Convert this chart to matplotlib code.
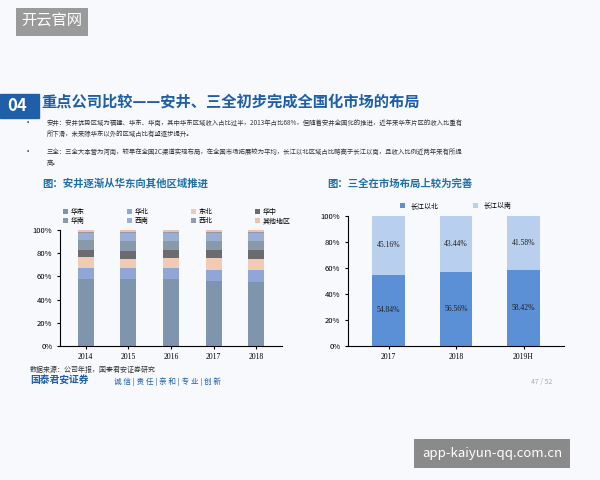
import numpy as np
import matplotlib
matplotlib.use("Agg")
import matplotlib.pyplot as plt
from matplotlib.patches import Rectangle

plt.rcParams['font.family'] = ['Noto Sans CJK SC', 'DejaVu Sans']

### data
years_l = ['2014', '2015', '2016', '2017', '2018']
regions = ['华东', '华北', '东北', '华中', '华南', '西南', '西北', '其他地区']
shares = {
    '华东': [58, 57.5, 58, 56, 55.5],
    '华北': [9, 10, 9, 10, 10.5],
    '东北': [10, 8, 9, 10, 9],
    '华中': [6, 7, 7, 7, 8],
    '华南': [9, 8, 8, 8, 8],
    '西南': [6, 7, 7, 7, 7],
    '西北': [1, 1.5, 1, 1, 1],
    '其他地区': [1, 1, 1, 1, 1],
}
region_cols = ['#7f95ad', '#8fa6d6', '#f2cbb5', '#6c6c70', '#8899aa', '#9aaed3', '#8d9cae', '#f0c0aa']

years_r = ['2017', '2018', '2019H']
north = [54.84, 56.56, 58.42]
south = [45.16, 43.44, 41.58]

fig = plt.figure(figsize=(6, 4.8), dpi=100)
fig.patch.set_facecolor('#f7f9fc')

# watermark / header
fig.text(0.035, 0.955, '开云官网', color='white', fontsize=11, va='center',
         bbox=dict(facecolor='#9a9a9a', edgecolor='none', pad=4))
fig.text(0.82, 0.055, 'app-kaiyun-qq.com.cn', color='white', fontsize=9.5, ha='center', va='center',
         bbox=dict(facecolor='#8a8a8a', edgecolor='none', pad=6))

fig.patches.append(Rectangle((0, 0.755), 0.065, 0.05, transform=fig.transFigure, color='#1f5fa8'))
fig.text(0.012, 0.78, '04', color='white', fontsize=12, fontweight='bold', va='center')
fig.text(0.068, 0.786, '重点公司比较——安井、三全初步完成全国化市场的布局', color='#1f5fa8',
         fontsize=11, fontweight='bold', va='center')
fig.text(0.04, 0.74, '•', fontsize=6, color='#333333')
fig.text(0.078, 0.74, '安井：安井优势区域为福建、华东、华南，其中华东区域收入占比过半，2013年占比68%，但随着安井全国化的推进，近年来华东片区的收入比重有',
         fontsize=4.6, color='#333333')
fig.text(0.078, 0.717, '所下滑，未来除华东以外的区域占比有望逐步提升。', fontsize=4.6, color='#333333')
fig.text(0.04, 0.68, '•', fontsize=6, color='#333333')
fig.text(0.078, 0.68, '三全：三全大本营为河南，较早在全国2C渠道实现布局，在全国市场拓展较为平均，长江以北区域占比略高于长江以南，且收入比例近两年来有所提',
         fontsize=4.6, color='#333333')
fig.text(0.078, 0.657, '高。', fontsize=4.6, color='#333333')

fig.text(0.07, 0.61, '图：安井逐渐从华东向其他区域推进', color='#1f6fa8', fontsize=7.5, fontweight='bold')
fig.text(0.545, 0.61, '图：三全在市场布局上较为完善', color='#1f6fa8', fontsize=7.5, fontweight='bold')

# left chart
ax1 = fig.add_axes([0.1, 0.28, 0.37, 0.24])
x = np.arange(len(years_l))
bottom = np.zeros(len(years_l))
for r, c in zip(regions, region_cols):
    v = np.array(shares[r])
    ax1.bar(x, v, 0.38, bottom=bottom, color=c, label=r)
    bottom += v
ax1.set_xlim(-0.6, 4.6)
ax1.set_ylim(0, 100)
ax1.set_yticks(range(0, 101, 20))
ax1.set_yticklabels([f'{t}%' for t in range(0, 101, 20)])
ax1.set_xticks(x)
ax1.set_xticklabels(years_l, family='Liberation Serif')
ax1.tick_params(labelsize=5.5, length=2)
for s in ['top', 'right']:
    ax1.spines[s].set_visible(False)
ax1.set_facecolor('none')
h, l = ax1.get_legend_handles_labels()
order = [0, 4, 1, 5, 2, 6, 3, 7]
ax1.legend([h[i] for i in order], [l[i] for i in order],
           loc='lower left', bbox_to_anchor=(0.0, 1.02, 1.05, 0.2), ncol=4, fontsize=5,
           frameon=False, handlelength=0.7, handleheight=0.7, columnspacing=3, mode='expand',
           borderaxespad=0, labelspacing=0.2, handletextpad=0.4)

# right chart
ax2 = fig.add_axes([0.58, 0.28, 0.36, 0.27])
x2 = np.arange(len(years_r))
ax2.bar(x2, north, 0.48, color='#5b8fd6', label='长江以北')
ax2.bar(x2, south, 0.48, bottom=north, color='#b9cfee', label='长江以南')
for i in range(len(years_r)):
    ax2.text(x2[i], north[i] / 2, f'{north[i]:.2f}%', ha='center', va='center', fontsize=5.5,
             family='Liberation Serif', color='#222222')
    ax2.text(x2[i], north[i] + south[i] / 2, f'{south[i]:.2f}%', ha='center', va='center',
             fontsize=5.5, family='Liberation Serif', color='#222222')
ax2.set_xlim(-0.6, 2.6)
ax2.set_ylim(0, 100)
ax2.set_yticks(range(0, 101, 20))
ax2.set_yticklabels([f'{t}%' for t in range(0, 101, 20)])
ax2.set_xticks(x2)
ax2.set_xticklabels(years_r, family='Liberation Serif')
ax2.tick_params(labelsize=5.5, length=2)
for s in ['top', 'right']:
    ax2.spines[s].set_visible(False)
ax2.set_facecolor('none')
ax2.legend(loc='lower center', bbox_to_anchor=(0.5, 1.0), ncol=2, fontsize=5, frameon=False,
           handlelength=0.7, handleheight=0.7, columnspacing=5)

fig.text(0.05, 0.225, '数据来源：公司年报，国泰君安证券研究', fontsize=5, color='#333333')
fig.text(0.05, 0.2, '国泰君安证券', fontsize=7, color='#1f5fa8', fontweight='bold')
fig.text(0.19, 0.2, '诚 信 | 责 任 | 亲 和 | 专 业 | 创 新', fontsize=5.5, color='#1f5fa8')
fig.text(0.92, 0.2, '47 / 52', fontsize=5, color='#aaaaaa', ha='right')

fig.savefig('out.png', dpi=100, facecolor=fig.get_facecolor())
